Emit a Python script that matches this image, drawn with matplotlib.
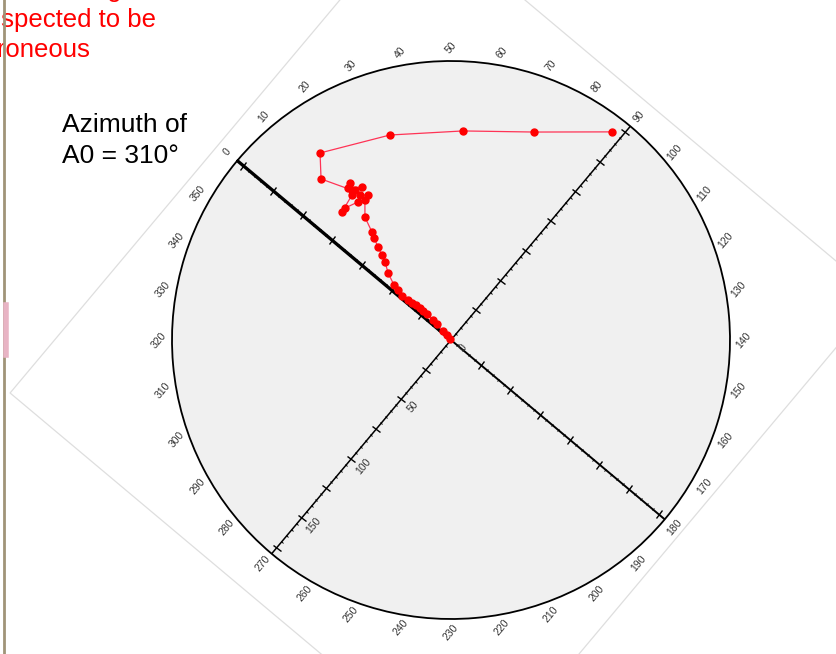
import numpy as np
import matplotlib
matplotlib.use('Agg')
import matplotlib.pyplot as plt
from matplotlib.markers import MarkerStyle
from matplotlib.transforms import Affine2D
from matplotlib.lines import Line2D

# ---------------- data ----------------
theta_deg = [10, 12, 9, 8.8, 8, 7.3, 6.5, 5.9, 4.5, 3.5, 2.5, 1.9, 3, 4.0, 6.8,
             9.8, 10.9, 11.9, 13.0, 13.8, 15.0, 18.4, 20.2, 17.9, 16.0, 11.2,
             9.6, 15.7, 17.4, 19.8, 15.9, 17.2, 16.5, 11.1, 15.0, 33.4, 53.3,
             71.8, 87.7]
radius = [1, 4, 8, 13.7, 17, 22.8, 26, 28.7, 32, 34.7, 38, 42.5, 47, 51.1, 59.3,
          65.9, 70.6, 76.3, 82.5, 86.3, 96.8, 106.0, 107.8, 110.4, 107.4, 109.2,
          108.5, 113.3, 114.9, 114.2, 118.5, 120.4, 116, 133.5, 147.3, 138.0, 135.1,
          144.5, 169.7]
angle_ticks = list(range(0, 360, 10))
radial_tick_labels = [0, 50, 100, 150]
r_max = 180
annot_lines = ["Azimuth of", "A0 = 310°"]
red_lines = ["Data readings", "suspected to be", "erroneous"]

# ---------------- layout ----------------
W, H = 836, 654
fig = plt.figure(figsize=(W / 100, H / 100), dpi=100)
CX, CY, R = 451, 340, 279
ZERO = 140  # display angle of 0 deg

ax = fig.add_axes([(CX - R) / W, 1 - (CY + R) / H, 2 * R / W, 2 * R / H],
                  projection='polar')
ax.set_theta_zero_location('E', offset=ZERO)
ax.set_theta_direction(-1)
ax.set_ylim(0, r_max)
ax.set_facecolor('#f0f0f0')
ax.grid(False)
ax.set_yticks([])
ax.set_xticks(np.deg2rad(angle_ticks))
ax.set_xticks(np.deg2rad(np.arange(5, 360, 10)), minor=True)
ax.set_xticklabels([])
ax.tick_params(axis='x', which='major', direction='out', length=5, width=1.0, colors='black')
ax.tick_params(axis='x', which='minor', direction='out', length=3, width=0.8, colors='black')
ax.spines['polar'].set_linewidth(1.3)

# outer rotated frame (faint)
up = np.array([np.cos(np.deg2rad(ZERO)), np.sin(np.deg2rad(ZERO))])
side = np.array([np.cos(np.deg2rad(ZERO - 90)), np.sin(np.deg2rad(ZERO - 90))])
c = np.array([CX, H - CY]) + 1.9 * up - 8 * side
hu, hs = 301.8, 316
corners = np.array([c + hu * up + hs * side, c + hu * up - hs * side,
                    c - hu * up - hs * side, c - hu * up + hs * side,
                    c + hu * up + hs * side])
fig.add_artist(Line2D(corners[:, 0] / W, corners[:, 1] / H, color='#dedede', lw=0.9,
                      zorder=0))

# angular labels
for a in angle_ticks:
    ax.text(np.deg2rad(a), 188.5, str(a), rotation=ZERO - 90, ha='center', va='center',
            fontsize=7.5, color='#333333', family='Liberation Sans',
            rotation_mode='anchor')

# radial axes with crossing ticks
for a, lw in [(0, 2.4), (180, 1.4), (90, 1.1), (270, 1.1)]:
    th = np.deg2rad(a)
    ax.plot([th, th], [0, r_max], color='black', lw=lw, solid_capstyle='butt', zorder=3)
    rot = ZERO - a + 90
    maj = MarkerStyle('_', transform=Affine2D().rotate_deg(rot))
    mnr = MarkerStyle('_', transform=Affine2D().rotate_deg(rot))
    rs = np.arange(25, r_max, 25)
    ax.plot(np.full(len(rs), th), rs, ls='none', marker=maj, ms=7, mew=1.0,
            color='black', zorder=3)
    rm = np.array([v for v in np.arange(5, r_max, 5) if v % 25 != 0])
    ax.plot(np.full(len(rm), th), rm, ls='none', marker=mnr, ms=2.5, mew=0.7,
            color='black', zorder=3)

for v in radial_tick_labels:
    ax.annotate(str(v), xy=(np.deg2rad(270), v), xytext=(8.5, -5.5),
                textcoords='offset points', rotation=ZERO - 90, ha='center',
                va='center', fontsize=7.5, color='#333333', family='Liberation Sans',
                rotation_mode='anchor')

# data
ax.plot(np.deg2rad(theta_deg), radius, color='#ff3355', lw=0.9, marker='o', ms=5,
        mfc='#ff0000', mec='#ff0000', zorder=5)

# annotations
fig.text(62 / W, 1 - 132 / H, annot_lines[0], fontsize=19, family='Liberation Sans',
         va='baseline', ha='left', color='black')
fig.text(62 / W, 1 - 163 / H, annot_lines[1], fontsize=19, family='Liberation Sans',
         va='baseline', ha='left', color='black')
for txt, yb in zip(red_lines, [-3, 27, 57]):
    fig.text(-25.5 / W, 1 - yb / H, txt, fontsize=18.5, family='Liberation Sans',
             va='baseline', ha='left', color='#ff0000')

# slide border fragments on the left
fig.add_artist(Line2D([4.2 / W, 4.2 / W], [0, 1], color='#a09478', lw=2.0, zorder=10))
fig.add_artist(Line2D([5.5 / W, 5.5 / W], [1 - 305 / H, 1 - 355 / H], color='#e8b4c4',
                      lw=4, zorder=11))

fig.savefig('out.png', dpi=100, facecolor='white')
